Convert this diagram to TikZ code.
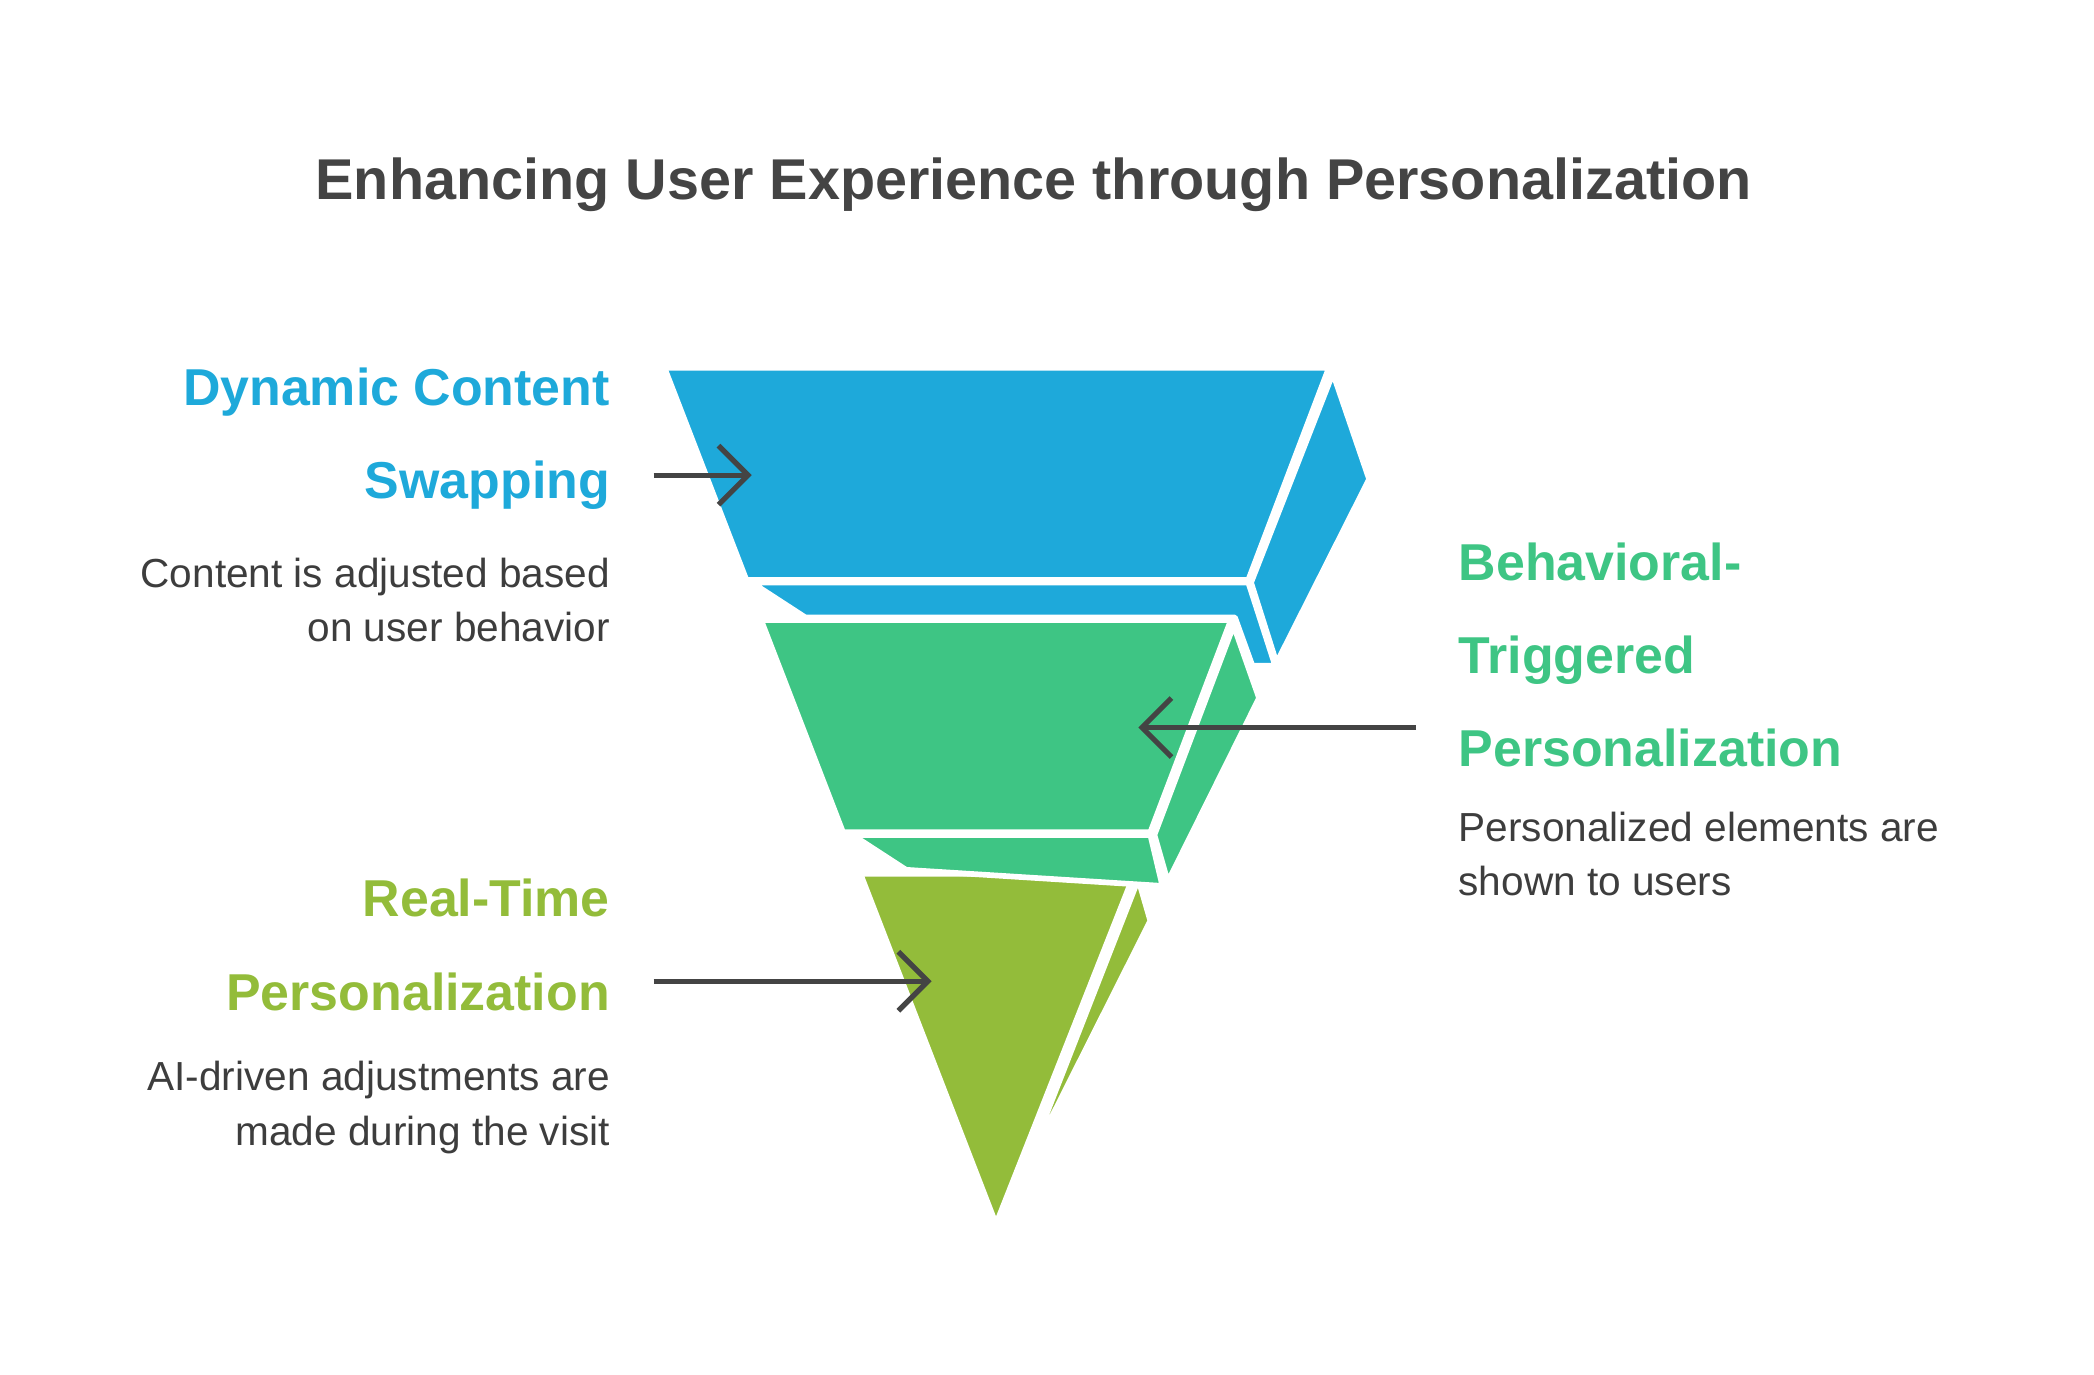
\documentclass[tikz,border=0pt]{standalone}
\usepackage{fontspec}
\setmainfont{Liberation Sans}
\usetikzlibrary{arrows.meta}
\definecolor{cblue}{HTML}{1EA9DA}
\definecolor{cgreen}{HTML}{3EC584}
\definecolor{clime}{HTML}{93BC3A}
\definecolor{ctext}{HTML}{444444}
\begin{document}
\begin{tikzpicture}[x=0.1mm,y=-0.1mm,
face/.style = {draw=white, line width=1.2pt, line join=round},
head/.style = {font=\fontsize{11}{13.5}\selectfont\bfseries, inner sep=0pt},
desc/.style = {font=\fontsize{8.6}{11.5}\selectfont, text=ctext!90!black, inner sep=0pt},
arr/.style = {draw=ctext, line width=1.1pt, -{Straight Barb[length=2.2mm,width=4.4mm]}},
>=Stealth
]
\useasboundingbox (0,0) rectangle (1560,1024);

\node [font=\fontsize{12.2}{14}\selectfont\bfseries, text=ctext] (title) at (770,138) {Enhancing User Experience through Personalization};

% lime layer
\fill [clime, face] (848,655) -- (857,686) -- (762,875) -- cycle;
\fill [clime, face] (641,651) -- (845,651) -- (742,912) -- cycle;

% green layer
\fill [cgreen, face] (635,622) -- (857,622) -- (866,660) -- (675,648) -- cycle;
\fill [cgreen, face] (919,466) -- (938,520) -- (870,657) -- (860,622) -- cycle;
\fill [cgreen, face] (567,462) -- (917,462) -- (857,620) -- (628,620) -- cycle;

% blue layer
\fill [cblue, face] (560,434) -- (930,434) -- (950,496) -- (933,496) -- (920,460) -- (600,460) -- cycle;
\fill [cblue, face] (993,278) -- (1020,357) -- (951,494) -- (932,434) -- cycle;
\fill [cblue, face] (495,274) -- (990,274) -- (930,432) -- (556,432) -- cycle;

% labels
\node [head, text=cblue, anchor=east, align=right] (dyn) at (455,327) {Dynamic Content\\[2.2mm]Swapping};
\node [desc, anchor=east, align=right] (dynd) at (455,447) {Content is adjusted based\\on user behavior};
\node [head, text=cgreen, anchor=west, align=left] (beh) at (1086,488) {Behavioral-\\[2.2mm]Triggered\\[2.2mm]Personalization};
\node [desc, anchor=west, align=left] (behd) at (1086,636) {Personalized elements are\\shown to users};
\node [head, text=clime, anchor=east, align=right] (rt) at (455,704) {Real-Time\\[2.2mm]Personalization};
\node [desc, anchor=east, align=right] (rtd) at (455,825) {AI-driven adjustments are\\made during the visit};

% arrows
\coordinate (a1) at (487,354); \coordinate (b1) at (560,354);
\coordinate (a2) at (1055,542); \coordinate (b2) at (848,542);
\coordinate (a3) at (487,731); \coordinate (b3) at (694,731);
\draw [arr] (a1) -- (b1);
\draw [arr] (a2) -- (b2);
\draw [arr] (a3) -- (b3);
\end{tikzpicture}
\end{document}
